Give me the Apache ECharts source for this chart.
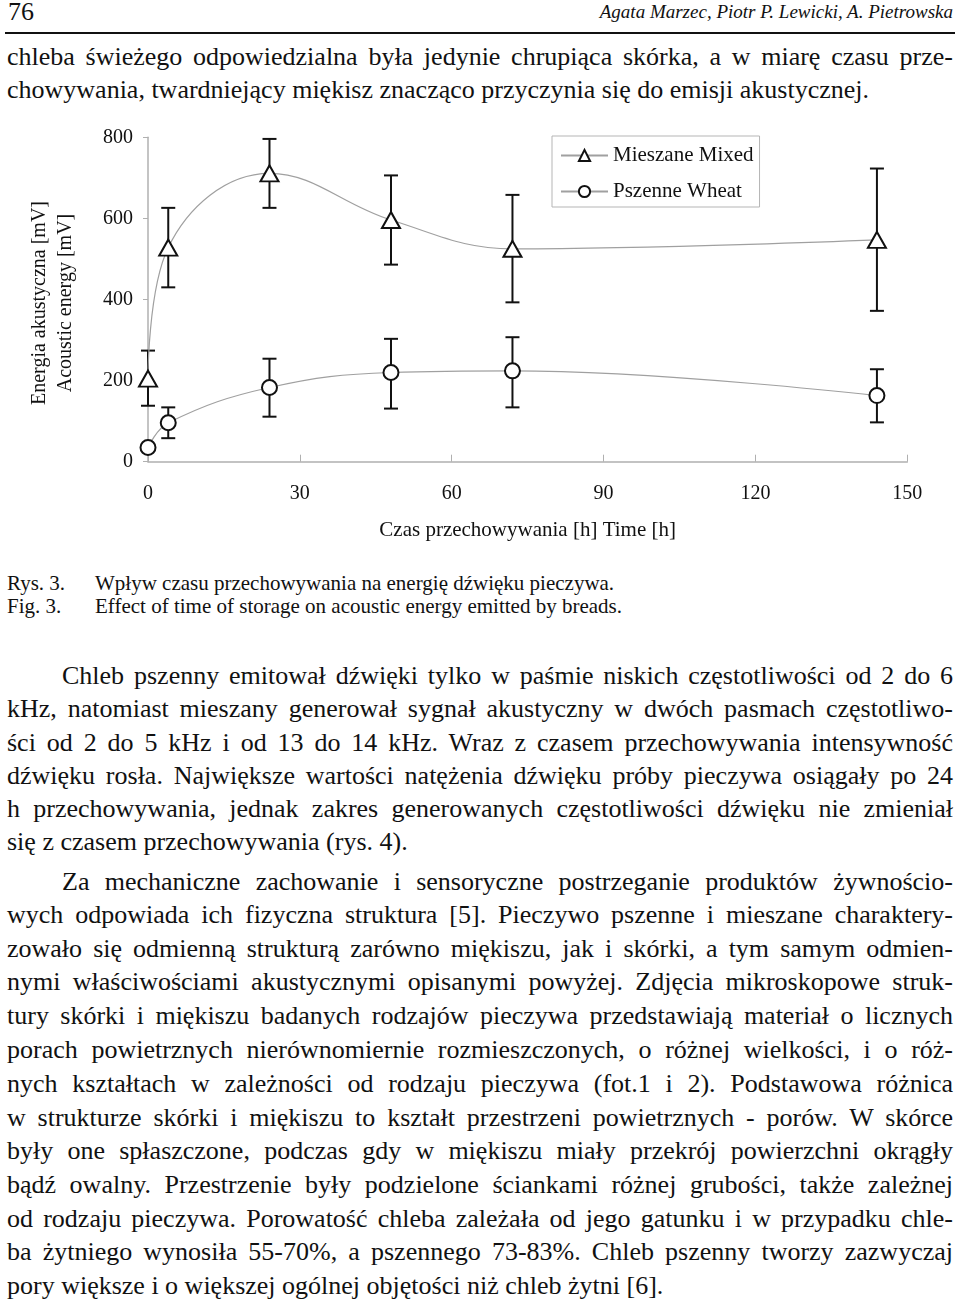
<!DOCTYPE html>
<html>
<head>
<meta charset="utf-8">
<script src="https://cdn.jsdelivr.net/npm/echarts@6/dist/echarts.min.js"></script>
<style>
  html, body { margin:0; padding:0; background:#fff; }
  body { width:960px; height:1308px; position:relative; overflow:hidden;
         font-family:"Liberation Serif","Times New Roman",serif; color:#111; }
  .ln { position:absolute; left:7px; width:946px; height:34px; line-height:34px;
        font-size:26px; white-space:nowrap; text-align:justify; text-align-last:justify;
        transform-origin:0 50%; }
  .ln.last { text-align:left; text-align-last:left; }
  .ln.ind { left:62px; width:891px; }
  .hdr { position:absolute; top:-5px; height:34px; line-height:34px; }
  .cap { position:absolute; font-size:21px; height:24px; line-height:24px; white-space:nowrap; }
  #chart { position:absolute; left:0; top:110px; width:960px; height:450px; }
</style>
</head>
<body>
<div class="hdr" style="left:8px;font-size:26px;">76</div>
<div class="hdr" style="right:7px;font-size:19px;font-style:italic;">Agata Marzec, Piotr P. Lewicki, A. Pietrowska</div>
<div style="position:absolute;left:5px;top:31.5px;width:950px;height:2.5px;background:#111;"></div>

<div id="text"></div>
<div id="chart"></div>

<div class="cap" style="left:7px;top:571px;">Rys. 3.</div>
<div class="cap" style="left:95px;top:571px;">Wpływ czasu przechowywania na energię dźwięku pieczywa.</div>
<div class="cap" style="left:7px;top:594px;">Fig. 3.</div>
<div class="cap" style="left:95px;top:594px;">Effect of time of storage on acoustic energy emitted by breads.</div>

<script>
// ---- chart data ----
const hours = [0, 4, 24, 48, 72, 144];
const mixedMean = [205, 528, 711, 596, 525, 547];
const mixedLow  = [138, 430, 626, 486, 393, 372];
const mixedHigh = [274, 626, 796, 706, 658, 723];
const wheatMean = [35, 96, 183, 220, 224, 163];
const wheatLow  = [null, 58, 111, 131, 134, 97];
const wheatHigh = [null, 134, 254, 303, 307, 228];
const xTicks = [0, 30, 60, 90, 120, 150];
const yTicks = [0, 200, 400, 600, 800];
const seriesNames = ['Mieszane Mixed', 'Pszenne Wheat'];

// ---- page text ----
const textLines = [
  // [centerY, text, cls]
  [58, 'chleba świeżego odpowiedzialna była jedynie chrupiąca skórka, a w miarę czasu prze-', ''],
  [91, 'chowywania, twardniejący miękisz znacząco przyczynia się do emisji akustycznej.', 'last'],
  [677, 'Chleb pszenny emitował dźwięki tylko w paśmie niskich częstotliwości od 2 do 6', 'ind'],
  [710, 'kHz, natomiast mieszany generował sygnał akustyczny w dwóch pasmach częstotliwo-', ''],
  [744, 'ści od 2 do 5 kHz i od 13 do 14 kHz. Wraz z czasem przechowywania intensywność', ''],
  [777, 'dźwięku rosła. Największe wartości natężenia dźwięku próby pieczywa osiągały po 24', ''],
  [810, 'h przechowywania, jednak zakres generowanych częstotliwości dźwięku nie zmieniał', ''],
  [843, 'się z czasem przechowywania (rys. 4).', 'last'],
  [883, 'Za mechaniczne zachowanie i sensoryczne postrzeganie produktów żywnościo-', 'ind'],
  [916, 'wych odpowiada ich fizyczna struktura [5]. Pieczywo pszenne i mieszane charaktery-', ''],
  [950, 'zowało się odmienną strukturą zarówno miękiszu, jak i skórki, a tym samym odmien-', ''],
  [983, 'nymi właściwościami akustycznymi opisanymi powyżej. Zdjęcia mikroskopowe struk-', ''],
  [1017, 'tury skórki i miękiszu badanych rodzajów pieczywa przedstawiają materiał o licznych', ''],
  [1051, 'porach powietrznych nierównomiernie rozmieszczonych, o różnej wielkości, i o róż-', ''],
  [1085, 'nych kształtach w zależności od rodzaju pieczywa (fot.1 i 2). Podstawowa różnica', ''],
  [1119, 'w strukturze skórki i miękiszu to kształt przestrzeni powietrznych - porów. W skórce', ''],
  [1152, 'były one spłaszczone, podczas gdy w miękiszu miały przekrój powierzchni okrągły', ''],
  [1186, 'bądź owalny. Przestrzenie były podzielone ściankami różnej grubości, także zależnej', ''],
  [1220, 'od rodzaju pieczywa. Porowatość chleba zależała od jego gatunku i w przypadku chle-', ''],
  [1253, 'ba żytniego wynosiła 55-70%, a pszennego 73-83%. Chleb pszenny tworzy zazwyczaj', ''],
  [1287, 'pory większe i o większej ogólnej objętości niż chleb żytni [6].', 'last']
];
const tc = document.getElementById('text');
textLines.forEach(([cy, t, cls]) => {
  const d = document.createElement('div');
  d.className = 'ln ' + cls;
  d.style.top = (cy - 18) + 'px';
  d.textContent = t;
  tc.appendChild(d);
  // if the natural width would overflow the column, condense the line slightly
  const sw = d.scrollWidth, cw = d.clientWidth;
  if (sw > cw + 0.5) {
    d.style.width = sw + 'px';
    d.style.transform = 'scaleX(' + (cw / sw) + ')';
  }
});

// ---- chart ----
const FONT = '"Liberation Serif","Times New Roman",serif';
const chart = echarts.init(document.getElementById('chart'), null, {renderer:'canvas'});

function errData(low, high) {
  const out = [];
  hours.forEach((h, i) => { if (low[i] != null && high[i] != null) out.push([h, low[i], high[i]]); });
  return out;
}
function errRender(params, api) {
  const x = api.value(0);
  const p1 = api.coord([x, api.value(1)]);
  const p2 = api.coord([x, api.value(2)]);
  const w = 7;
  const st = { stroke:'#111', lineWidth:2 };
  return { type:'group', children:[
    { type:'line', shape:{x1:p1[0], y1:p1[1], x2:p2[0], y2:p2[1]}, style:st },
    { type:'line', shape:{x1:p1[0]-w, y1:p1[1], x2:p1[0]+w, y2:p1[1]}, style:st },
    { type:'line', shape:{x1:p2[0]-w, y1:p2[1], x2:p2[0]+w, y2:p2[1]}, style:st }
  ]};
}
const markerStyle = { color:'#fff', borderColor:'#111', borderWidth:2 };

chart.setOption({
  animation:false,
  backgroundColor:'transparent',
  textStyle:{ fontFamily:FONT },
  grid:{ left:148, right:52.7, top:27.3, bottom:98.3, containLabel:false },
  legend:{
    data:seriesNames,
    orient:'vertical', left:552, top:26,
    padding:[9, 6, 5, 8], itemGap:15,
    itemWidth:47, itemHeight:14,
    borderColor:'#b5b5b5', borderWidth:1,
    textStyle:{ fontFamily:FONT, fontSize:21, color:'#111', lineHeight:20, padding:[0,0,0,0] }
  },
  xAxis:{
    type:'value', min:0, max:150, interval:30,
    name:'Czas przechowywania [h] Time [h]', nameLocation:'middle', nameGap:58,
    nameTextStyle:{ fontFamily:FONT, fontSize:21, color:'#111' },
    axisLine:{ show:true, lineStyle:{ color:'#b0b0b0', width:1.5 } },
    axisTick:{ show:true, inside:true, length:7, lineStyle:{ color:'#b0b0b0' } },
    axisLabel:{ fontFamily:FONT, fontSize:20, color:'#111', margin:22,
      formatter: v => xTicks.includes(v) ? String(v) : '' },
    splitLine:{ show:false }
  },
  yAxis:{
    type:'value', min:0, max:800, interval:200,
    axisLine:{ show:true, lineStyle:{ color:'#b0b0b0', width:1.5 } },
    axisTick:{ show:true, inside:false, length:5, lineStyle:{ color:'#b0b0b0' } },
    axisLabel:{ fontFamily:FONT, fontSize:20, color:'#111', margin:15,
      formatter: v => yTicks.includes(v) ? String(v) : '' },
    splitLine:{ show:false }
  },
  graphic:[{
    type:'text', x:53, y:193, rotation:Math.PI/2,
    style:{ text:'Energia akustyczna [mV]\nAcoustic energy [mV]', fontFamily:FONT, fontSize:20,
      fill:'#111', align:'center', verticalAlign:'middle', lineHeight:26 }
  }],
  series:[
    { type:'custom', name:'errMixed', data:errData(mixedLow, mixedHigh), renderItem:errRender,
      encode:{ x:0, y:[1,2] }, z:2, clip:false, silent:true },
    { type:'custom', name:'errWheat', data:errData(wheatLow, wheatHigh), renderItem:errRender,
      encode:{ x:0, y:[1,2] }, z:2, clip:false, silent:true },
    { type:'line', name:seriesNames[0], data:hours.map((h,i)=>[h, mixedMean[i]]),
      smooth:0.4, symbol:'triangle', symbolSize:[18,16], showAllSymbol:true,
      lineStyle:{ color:'#a0a0a0', width:1.2 }, itemStyle:markerStyle, z:3, clip:false },
    { type:'line', name:seriesNames[1], data:hours.map((h,i)=>[h, wheatMean[i]]),
      smooth:0.4, symbol:'circle', symbolSize:15, showAllSymbol:true,
      lineStyle:{ color:'#a0a0a0', width:1.2 }, itemStyle:markerStyle, z:3, clip:false }
  ]
});
</script>
</body>
</html>
